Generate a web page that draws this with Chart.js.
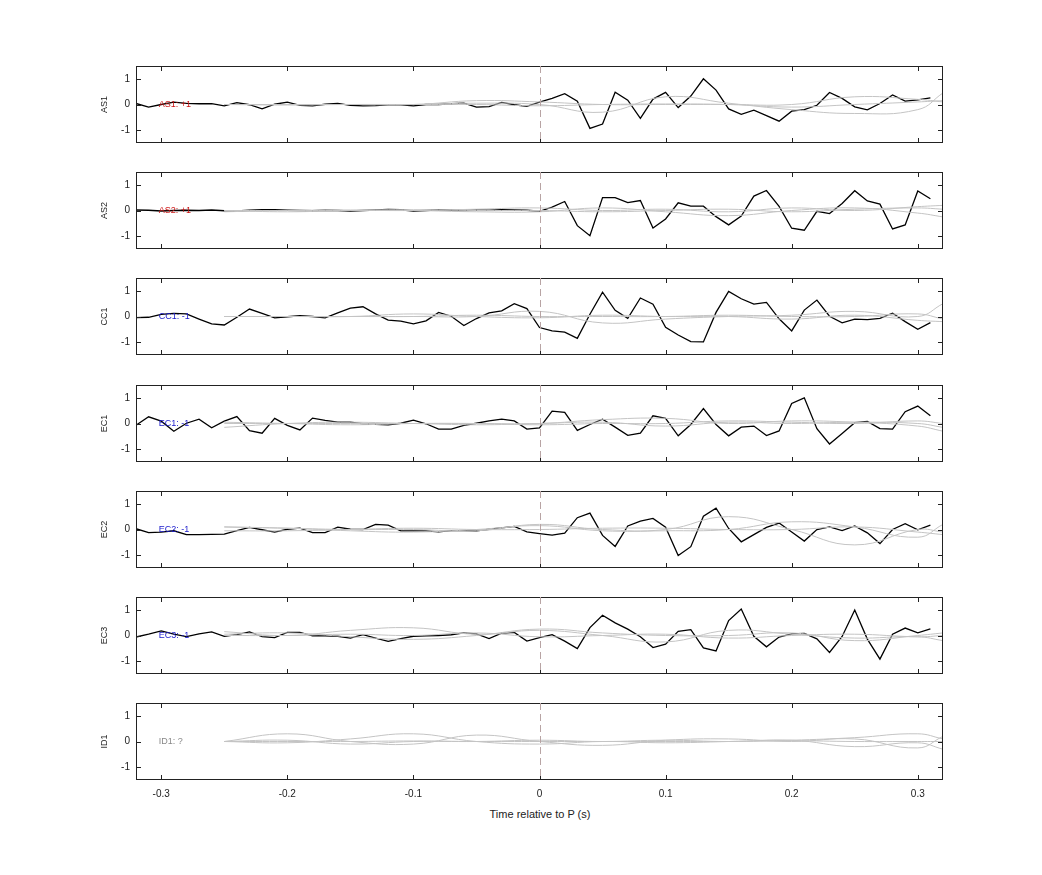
<!DOCTYPE html>
<html>
<head>
<meta charset="utf-8">
<script src="https://cdn.jsdelivr.net/npm/chart.js@4/dist/chart.umd.min.js"></script>
<style>
  body { margin: 0; background: #fff; font-family: "Liberation Sans", Arial, sans-serif; }
  .panel { position: absolute; left: 99px; width: 846px; }
  #xtitle { position: absolute; top: 808px; left: 0; width: 1080px; text-align: center; font-size: 11px; color: #222; }
</style>
</head>
<body>
<div id="charts"></div>
<div id="xtitle">Time relative to P (s)</div>
<script>
// channel names and the label drawn inside each panel
var channels = ['AS1', 'AS2', 'CC1', 'EC1', 'EC2', 'EC3', 'ID1'];
var tags = ['AS1: +1', 'AS2: +1', 'CC1: -1', 'EC1: -1', 'EC2: -1', 'EC3: -1', 'ID1: ?'];
var tagColors = ['#cc1111', '#cc1111', '#1a1acc', '#1a1acc', '#1a1acc', '#1a1acc', '#888888'];

// black trace sample times: -0.32 .. 0.31 every 0.01 s
var traceTimes = [];
for (var k = -32; k <= 31; k++) traceTimes.push(k / 100);

// black trace values (first 32 before P, last 32 after P)
var traceAS1 = [0.04,-0.1,0,0.09,0.04,0.03,0.03,-0.05,0.07,-0.01,-0.17,0.01,0.09,-0.03,-0.05,0.01,0.04,-0.03,-0.05,-0.04,-0.01,-0.01,-0.05,0,0,0.03,0.05,-0.1,-0.08,0.08,-0.01,-0.07,
  0.09,0.24,0.42,0.13,-0.93,-0.76,0.48,0.17,-0.54,0.21,0.47,-0.12,0.33,1.0,0.56,-0.17,-0.38,-0.22,-0.43,-0.65,-0.26,-0.2,-0.03,0.47,0.24,-0.09,-0.21,0.04,0.37,0.13,0.18,0.26];
var traceAS2 = [0.02,0.01,-0.02,0,0.01,0,0.02,-0.01,-0.02,0.01,0.03,0.03,0.01,0,-0.01,0.01,0,-0.02,0,0.02,0.04,0.03,-0.02,0,0.03,0.01,0,0.02,0.01,0.03,0.02,0.01,
  -0.03,0.13,0.35,-0.59,-0.98,0.5,0.5,0.31,0.39,-0.68,-0.33,0.3,0.17,0.17,-0.24,-0.56,-0.22,0.56,0.78,0.16,-0.69,-0.77,-0.03,-0.12,0.27,0.77,0.37,0.25,-0.72,-0.56,0.76,0.46];
var traceCC1 = [-0.04,-0.03,0.08,0.12,0.1,-0.1,-0.29,-0.33,-0.03,0.29,0.12,-0.05,-0.01,0.03,0,-0.05,0.14,0.33,0.38,0.1,-0.14,-0.18,-0.29,-0.17,0.16,0.01,-0.35,-0.08,0.14,0.22,0.5,0.31,
  -0.43,-0.56,-0.61,-0.85,0.09,0.95,0.24,-0.07,0.72,0.48,-0.42,-0.72,-0.98,-0.99,0.16,0.98,0.69,0.48,0.55,-0.09,-0.56,0.25,0.64,0.01,-0.25,-0.1,-0.12,-0.07,0.13,-0.2,-0.5,-0.24];
var traceEC1 = [-0.07,0.26,0.09,-0.3,0.01,0.17,-0.17,0.09,0.27,-0.28,-0.38,0.2,-0.07,-0.25,0.21,0.12,0.05,0.05,-0.01,-0.03,-0.05,0.01,0.13,-0.01,-0.22,-0.22,-0.07,0.01,0.1,0.17,0.1,-0.22,
  -0.17,0.48,0.43,-0.27,-0.04,0.17,-0.14,-0.46,-0.38,0.3,0.2,-0.48,-0.04,0.58,-0.04,-0.48,-0.14,-0.1,-0.47,-0.29,0.78,1.0,-0.2,-0.8,-0.39,0.03,0.08,-0.2,-0.22,0.46,0.68,0.3];
var traceEC2 = [0.03,-0.12,-0.1,-0.05,-0.2,-0.2,-0.19,-0.18,-0.04,0.08,-0.01,-0.1,0.01,0.05,-0.12,-0.12,0.09,0.01,0,0.2,0.17,-0.05,-0.05,-0.05,-0.09,-0.04,-0.04,-0.05,0.01,0.06,0.12,-0.09,
  -0.16,-0.22,-0.14,0.46,0.64,-0.23,-0.66,0.14,0.33,0.43,0.09,-1.01,-0.67,0.52,0.83,0.04,-0.48,-0.2,0.08,0.25,-0.1,-0.45,0,0.1,-0.04,0.14,-0.13,-0.55,0,0.23,-0.01,0.17];
var traceEC3 = [-0.06,0.05,0.18,0.05,-0.04,0.06,0.14,-0.03,0.03,0.14,-0.04,-0.08,0.12,0.12,-0.01,-0.01,-0.03,-0.1,0.03,-0.1,-0.23,-0.12,-0.03,-0.01,0,0.03,0.1,0.06,-0.12,0.09,0.12,-0.22,
  -0.08,0.03,-0.22,-0.51,0.31,0.79,0.49,0.25,-0.05,-0.47,-0.34,0.16,0.23,-0.48,-0.6,0.58,1.03,-0.03,-0.44,-0.06,0.06,0.08,-0.13,-0.66,-0.04,0.99,-0.14,-0.92,0.05,0.29,0.1,0.26];
var traces = [traceAS1, traceAS2, traceCC1, traceEC1, traceEC2, traceEC3, null];

// gray comparison curves: knots at -0.25 .. 0.30 every 0.05, then 0.32
var grayTimes = [-0.25,-0.2,-0.15,-0.1,-0.05,0,0.05,0.1,0.15,0.2,0.25,0.3,0.32];
var grayAS1 = [
  [0,0,0,0,0.05,0,-0.3,0.3,0.05,-0.2,-0.35,-0.2,0.45],
  [0,0,0,0,0.15,0.1,0,0,0,0,0.3,0.2,0.1],
  [0,-0.02,0,0,0,-0.05,0,0.02,0,-0.1,0,0.1,0.15]];
var grayAS2 = [
  [0,-0.05,0,0,0.05,0.1,0,0.05,-0.05,0.1,0,0.15,0.2],
  [-0.05,0,0.02,0,-0.05,-0.05,0.1,-0.05,-0.2,0,0.1,-0.1,-0.25],
  [0,0,0,0.03,0,0,-0.05,0,0.05,-0.05,0.05,0.1,0.05]];
var grayCC1 = [
  [0,0,0,0,0,0.2,-0.25,-0.1,0,0.05,0.2,0,0.5],
  [0,0,0,0.1,0,-0.05,0.05,0,0,-0.1,0.05,-0.15,-0.2],
  [0,0,0,0,0.05,0,0,0,0.05,0,0,0.1,-0.1]];
var grayEC1 = [
  [-0.15,0,0.05,0,0,0,0.15,0.2,0,0.1,0.05,-0.1,-0.3],
  [0,0,0,0,-0.05,0,0.05,-0.1,0.05,0,0.05,0,-0.15],
  [0.05,0,-0.05,0,0,-0.05,0,0,0.1,0.05,0,0.1,0]];
var grayEC2 = [
  [0.1,0.05,0,0,-0.05,0.2,0,0,0.5,0,-0.6,0,-0.1],
  [0.1,0.05,-0.05,-0.1,0,0.15,-0.05,-0.05,0,0.3,0.1,-0.3,0.2],
  [-0.05,-0.05,0,0.05,0,0,0.05,0.05,0,0,0.1,-0.1,-0.2]];
var grayEC3 = [
  [0.15,0,0.2,0.3,0.05,0.2,0,-0.25,0.2,0.05,-0.1,-0.05,-0.2],
  [0.05,0.1,-0.05,-0.15,0,0.25,0.1,0,0,0.1,-0.2,0,0.1],
  [0,0,0.05,0,0.1,-0.05,0,0.05,-0.1,0,0.05,-0.05,0]];
var grayID1 = [
  [0,0.3,0,-0.1,0.25,0,-0.15,0.05,0.1,0,0.1,-0.25,0.2],
  [0,-0.05,0.1,0.3,0,-0.1,0,-0.05,0,0.05,0.15,0.3,0.1],
  [0,0.05,-0.1,0,0,0.05,0,0.05,0,0.05,-0.2,-0.05,-0.3],
  [0,0,0,0.02,0,0,0,0,0,0.03,0,0,0]];
var grays = [grayAS1, grayAS2, grayCC1, grayEC1, grayEC2, grayEC3, grayID1];

var xTicks = [-0.3, -0.2, -0.1, 0, 0.1, 0.2, 0.3];
var yTicks = [-1, 0, 1];

// box, inward tick marks, zero line and channel tag
var decor = {
  id: 'decor',
  afterDatasetsDraw: function (chart) {
    var c = chart.ctx, a = chart.chartArea;
    var xs = chart.scales.x, ys = chart.scales.y;
    c.save();
    c.strokeStyle = '#222';
    c.lineWidth = 1;
    c.strokeRect(Math.round(a.left) + 0.5, Math.round(a.top) + 0.5,
      Math.round(a.right - a.left) - 1, Math.round(a.bottom - a.top) - 1);
    xTicks.forEach(function (t) {
      var px = Math.round(xs.getPixelForValue(t)) + 0.5;
      c.beginPath();
      c.moveTo(px, a.top); c.lineTo(px, a.top + 5);
      c.moveTo(px, a.bottom); c.lineTo(px, a.bottom - 5);
      c.stroke();
    });
    yTicks.forEach(function (t) {
      var py = Math.round(ys.getPixelForValue(t)) + 0.5;
      c.beginPath();
      c.moveTo(a.left, py); c.lineTo(a.left + 5, py);
      c.moveTo(a.right, py); c.lineTo(a.right - 5, py);
      c.stroke();
    });
    var zx = Math.round(xs.getPixelForValue(0)) + 0.5;
    c.strokeStyle = '#b8a4a4';
    c.setLineDash([7, 4]);
    c.beginPath(); c.moveTo(zx, a.top); c.lineTo(zx, a.bottom); c.stroke();
    c.setLineDash([]);
    var i = chart.options.plugins.decor.index;
    c.fillStyle = tagColors[i];
    c.font = '9px "Liberation Sans", Arial, sans-serif';
    c.textBaseline = 'middle';
    c.fillText(tags[i], xs.getPixelForValue(-0.302), ys.getPixelForValue(0));
    c.restore();
  }
};

var holder = document.getElementById('charts');
channels.forEach(function (name, i) {
  var last = i === channels.length - 1;
  var div = document.createElement('div');
  div.className = 'panel';
  var top = 66 + i * 106.2;
  div.style.top = (top - 12) + 'px';
  div.style.height = (last ? 111 : 101) + 'px';
  var canvas = document.createElement('canvas');
  div.appendChild(canvas);
  holder.appendChild(div);

  var datasets = [];
  grays[i].forEach(function (g) {
    datasets.push({
      data: grayTimes.map(function (t, j) { return { x: t, y: g[j] }; }),
      borderColor: '#c4c4c4', borderWidth: 1, pointRadius: 0, tension: 0.45
    });
  });
  if (traces[i]) {
    datasets.push({
      data: traceTimes.map(function (t, j) { return { x: t, y: traces[i][j] }; }),
      borderColor: '#000', borderWidth: 1.3, pointRadius: 0, tension: 0
    });
  }

  new Chart(canvas, {
    type: 'line',
    data: { datasets: datasets },
    options: {
      responsive: true, maintainAspectRatio: false, animation: false,
      layout: { padding: { top: 4, right: 2, bottom: last ? 0 : 4, left: 0 } },
      plugins: { legend: { display: false }, tooltip: { enabled: false }, decor: { index: i } },
      scales: {
        x: {
          type: 'linear', min: -0.32, max: 0.32,
          afterBuildTicks: function (s) { s.ticks = xTicks.map(function (v) { return { value: v }; }); },
          afterFit: function (s) { s.height = last ? 22 : 0; },
          grid: { display: false, drawTicks: false },
          border: { display: false },
          ticks: {
            display: last, padding: 8, color: '#222', font: { size: 10 },
            callback: function (v) { return v === 0 ? '0' : String(Math.round(v * 10) / 10); }
          }
        },
        y: {
          min: -1.5, max: 1.5,
          afterBuildTicks: function (s) { s.ticks = yTicks.map(function (v) { return { value: v }; }); },
          afterFit: function (s) { s.width = 37; },
          grid: { display: false, drawTicks: false },
          border: { display: false },
          ticks: { color: '#222', font: { size: 10 }, padding: 6 },
          title: { display: true, text: name, color: '#222', font: { size: 9 }, padding: 0 }
        }
      }
    },
    plugins: [decor]
  });
});
</script>
</body>
</html>
